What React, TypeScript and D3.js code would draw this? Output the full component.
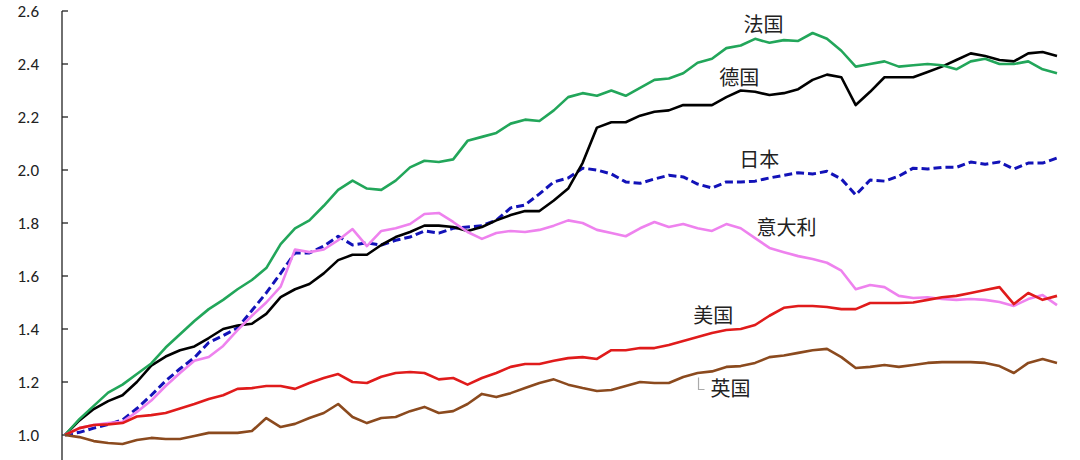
import * as d3 from "d3"

// Index series (start = 1.0), one value per year
const france = [
  1.0, 1.06, 1.11, 1.16, 1.19, 1.23, 1.27, 1.33, 1.38, 1.43,
  1.475, 1.51, 1.55, 1.585, 1.63, 1.72, 1.78, 1.81, 1.865, 1.925,
  1.96, 1.93, 1.925, 1.96, 2.01, 2.035, 2.03, 2.04, 2.11, 2.125,
  2.14, 2.175, 2.19, 2.185, 2.225, 2.275, 2.29, 2.28, 2.3, 2.28,
  2.31, 2.34, 2.345, 2.365, 2.405, 2.42, 2.46, 2.47, 2.495, 2.48,
  2.49, 2.487, 2.517, 2.495, 2.45, 2.39, 2.4, 2.41, 2.39, 2.395,
  2.4, 2.395, 2.38, 2.41, 2.42, 2.4, 2.4, 2.41, 2.38, 2.365,
]
const germany = [
  1.0, 1.055, 1.098, 1.128, 1.15, 1.2, 1.262, 1.296, 1.32, 1.334,
  1.366, 1.4, 1.413, 1.42, 1.457, 1.52, 1.55, 1.57, 1.61, 1.66,
  1.68, 1.68, 1.717, 1.747, 1.766, 1.79, 1.79, 1.785, 1.77, 1.785,
  1.81, 1.83, 1.845, 1.845, 1.885, 1.93, 2.026, 2.16, 2.18, 2.18,
  2.205, 2.22, 2.225, 2.245, 2.245, 2.245, 2.275, 2.3, 2.295, 2.283,
  2.29, 2.305, 2.34, 2.36, 2.35, 2.245, 2.295, 2.35, 2.35, 2.35,
  2.37, 2.39, 2.415, 2.44, 2.43, 2.415, 2.41, 2.44, 2.445, 2.43,
]
const japan = [
  1.0, 1.01, 1.026, 1.04, 1.057, 1.1, 1.15, 1.204, 1.25, 1.292,
  1.349, 1.375, 1.404, 1.47, 1.536, 1.61, 1.687, 1.687, 1.713, 1.75,
  1.717, 1.725, 1.717, 1.735, 1.747, 1.77, 1.762, 1.78, 1.785, 1.79,
  1.81, 1.857, 1.868, 1.91, 1.955, 1.97, 2.007, 2.0, 1.985, 1.955,
  1.95, 1.966, 1.98, 1.974, 1.947, 1.932, 1.955, 1.955, 1.958, 1.97,
  1.98, 1.99, 1.985, 1.995, 1.966, 1.906, 1.962, 1.958, 1.977, 2.007,
  2.004, 2.01, 2.01, 2.03, 2.022, 2.03, 2.004, 2.026, 2.026, 2.045,
]
const italy = [
  1.0, 1.026, 1.038, 1.045, 1.05, 1.087, 1.13, 1.185, 1.234, 1.28,
  1.294, 1.336, 1.396, 1.45, 1.5, 1.56, 1.7, 1.69, 1.7, 1.735,
  1.777, 1.713, 1.77, 1.78, 1.796, 1.834, 1.838, 1.804, 1.766, 1.74,
  1.762, 1.77, 1.766, 1.774, 1.79, 1.81, 1.8, 1.774, 1.762, 1.75,
  1.78, 1.804, 1.785, 1.796, 1.78, 1.77, 1.796, 1.78, 1.743, 1.706,
  1.69, 1.675, 1.664, 1.65, 1.62, 1.55, 1.566, 1.558, 1.525, 1.517,
  1.52, 1.513, 1.51, 1.513, 1.51, 1.502, 1.487, 1.513, 1.528, 1.49,
]
const usa = [
  1.0, 1.026, 1.038, 1.04, 1.045, 1.07, 1.075, 1.083, 1.1, 1.117,
  1.136, 1.15, 1.174, 1.177, 1.185, 1.185, 1.174, 1.196, 1.215, 1.23,
  1.2, 1.196, 1.22, 1.234, 1.238, 1.234, 1.21, 1.215, 1.19, 1.215,
  1.234, 1.257, 1.268, 1.268, 1.28, 1.29, 1.294, 1.287, 1.32, 1.32,
  1.328, 1.328, 1.34, 1.355, 1.37, 1.385, 1.396, 1.4, 1.415, 1.45,
  1.48, 1.487, 1.487, 1.483, 1.475, 1.475, 1.498, 1.498, 1.498, 1.5,
  1.51, 1.52, 1.525, 1.536, 1.547, 1.558, 1.494, 1.536, 1.51, 1.525,
]
const uk = [
  1.0, 0.992, 0.977, 0.97, 0.966, 0.981, 0.989, 0.985, 0.985, 0.996,
  1.008, 1.008, 1.008, 1.015, 1.064, 1.03, 1.042, 1.064, 1.083, 1.117,
  1.068, 1.045, 1.064, 1.068, 1.09, 1.106, 1.083, 1.09, 1.117, 1.155,
  1.143, 1.158, 1.177, 1.196, 1.21, 1.19, 1.177, 1.166, 1.17, 1.185,
  1.2, 1.196, 1.196, 1.219, 1.234, 1.24, 1.257, 1.26, 1.272, 1.294,
  1.3, 1.31, 1.32, 1.325, 1.294, 1.253, 1.257, 1.264, 1.257, 1.264,
  1.272, 1.275, 1.275, 1.275, 1.272, 1.26, 1.234, 1.272, 1.287, 1.272,
]

const yTicks = [1.0, 1.2, 1.4, 1.6, 1.8, 2.0, 2.2, 2.4, 2.6]

const series = [
  { name: "日本", values: japan, color: "#1212b8", dash: "8 4" },
  { name: "德国", values: germany, color: "#000000", dash: null },
  { name: "法国", values: france, color: "#22a65a", dash: null },
  { name: "意大利", values: italy, color: "#ee82ee", dash: null },
  { name: "美国", values: usa, color: "#e01b1b", dash: null },
  { name: "英国", values: uk, color: "#8b4a1e", dash: null },
]

// label anchors in data units (index, value), text starts there
const labels = [
  { name: "法国", at: [47.2, 2.522] },
  { name: "德国", at: [45.5, 2.322] },
  { name: "日本", at: [46.9, 2.013] },
  { name: "意大利", at: [48.1, 1.753] },
  { name: "美国", at: [43.7, 1.424] },
  { name: "英国", at: [44.9, 1.149] },
]

const width = 1080
const height = 460

export default function App() {
  const n = france.length
  const x = d3.scaleLinear().domain([0, n - 1]).range([65, 1057])
  const y = d3.scaleLinear().domain([1.0, 2.6]).range([435, 11])
  const axisX = 62

  const line = d3
    .line<number>()
    .x((_, i) => x(i))
    .y((d) => y(d))

  const ukLabel = labels[5]
  const leadX = x(ukLabel.at[0]) - 12
  const leadY = y(ukLabel.at[1])

  return (
    <svg
      width={width}
      height={height}
      style={{ position: "absolute", left: 0, top: 0, background: "#fff" }}
    >
      {/* y axis */}
      <line x1={axisX} x2={axisX} y1={y(2.6)} y2={height} stroke="#222" strokeWidth={1.3} />
      {yTicks.map((t) => (
        <g key={t}>
          <line x1={axisX} x2={axisX + 6} y1={y(t)} y2={y(t)} stroke="#222" strokeWidth={1.3} />
          <text
            x={39}
            y={y(t)}
            dy="0.35em"
            textAnchor="end"
            fontFamily="Carlito, 'Liberation Sans', Arial, sans-serif"
            fontSize={17}
            fill="#222"
          >
            {t.toFixed(1)}
          </text>
        </g>
      ))}

      {/* lines */}
      {series.map((s) => (
        <path
          key={s.name}
          d={line(s.values) ?? ""}
          fill="none"
          stroke={s.color}
          strokeWidth={s.dash ? 3 : 2.6}
          strokeDasharray={s.dash ?? undefined}
          strokeLinejoin="round"
        />
      ))}

      {/* labels */}
      {labels.map((l) => (
        <text
          key={l.name}
          x={x(l.at[0])}
          y={y(l.at[1])}
          fontFamily="'Noto Sans CJK SC', sans-serif"
          fontSize={20}
          fill="#222"
        >
          {l.name}
        </text>
      ))}
      <path
        d={`M${leadX},${leadY - 18}V${leadY - 6}H${leadX + 6}`}
        fill="none"
        stroke="#aaa"
        strokeWidth={1.2}
      />
    </svg>
  )
}
